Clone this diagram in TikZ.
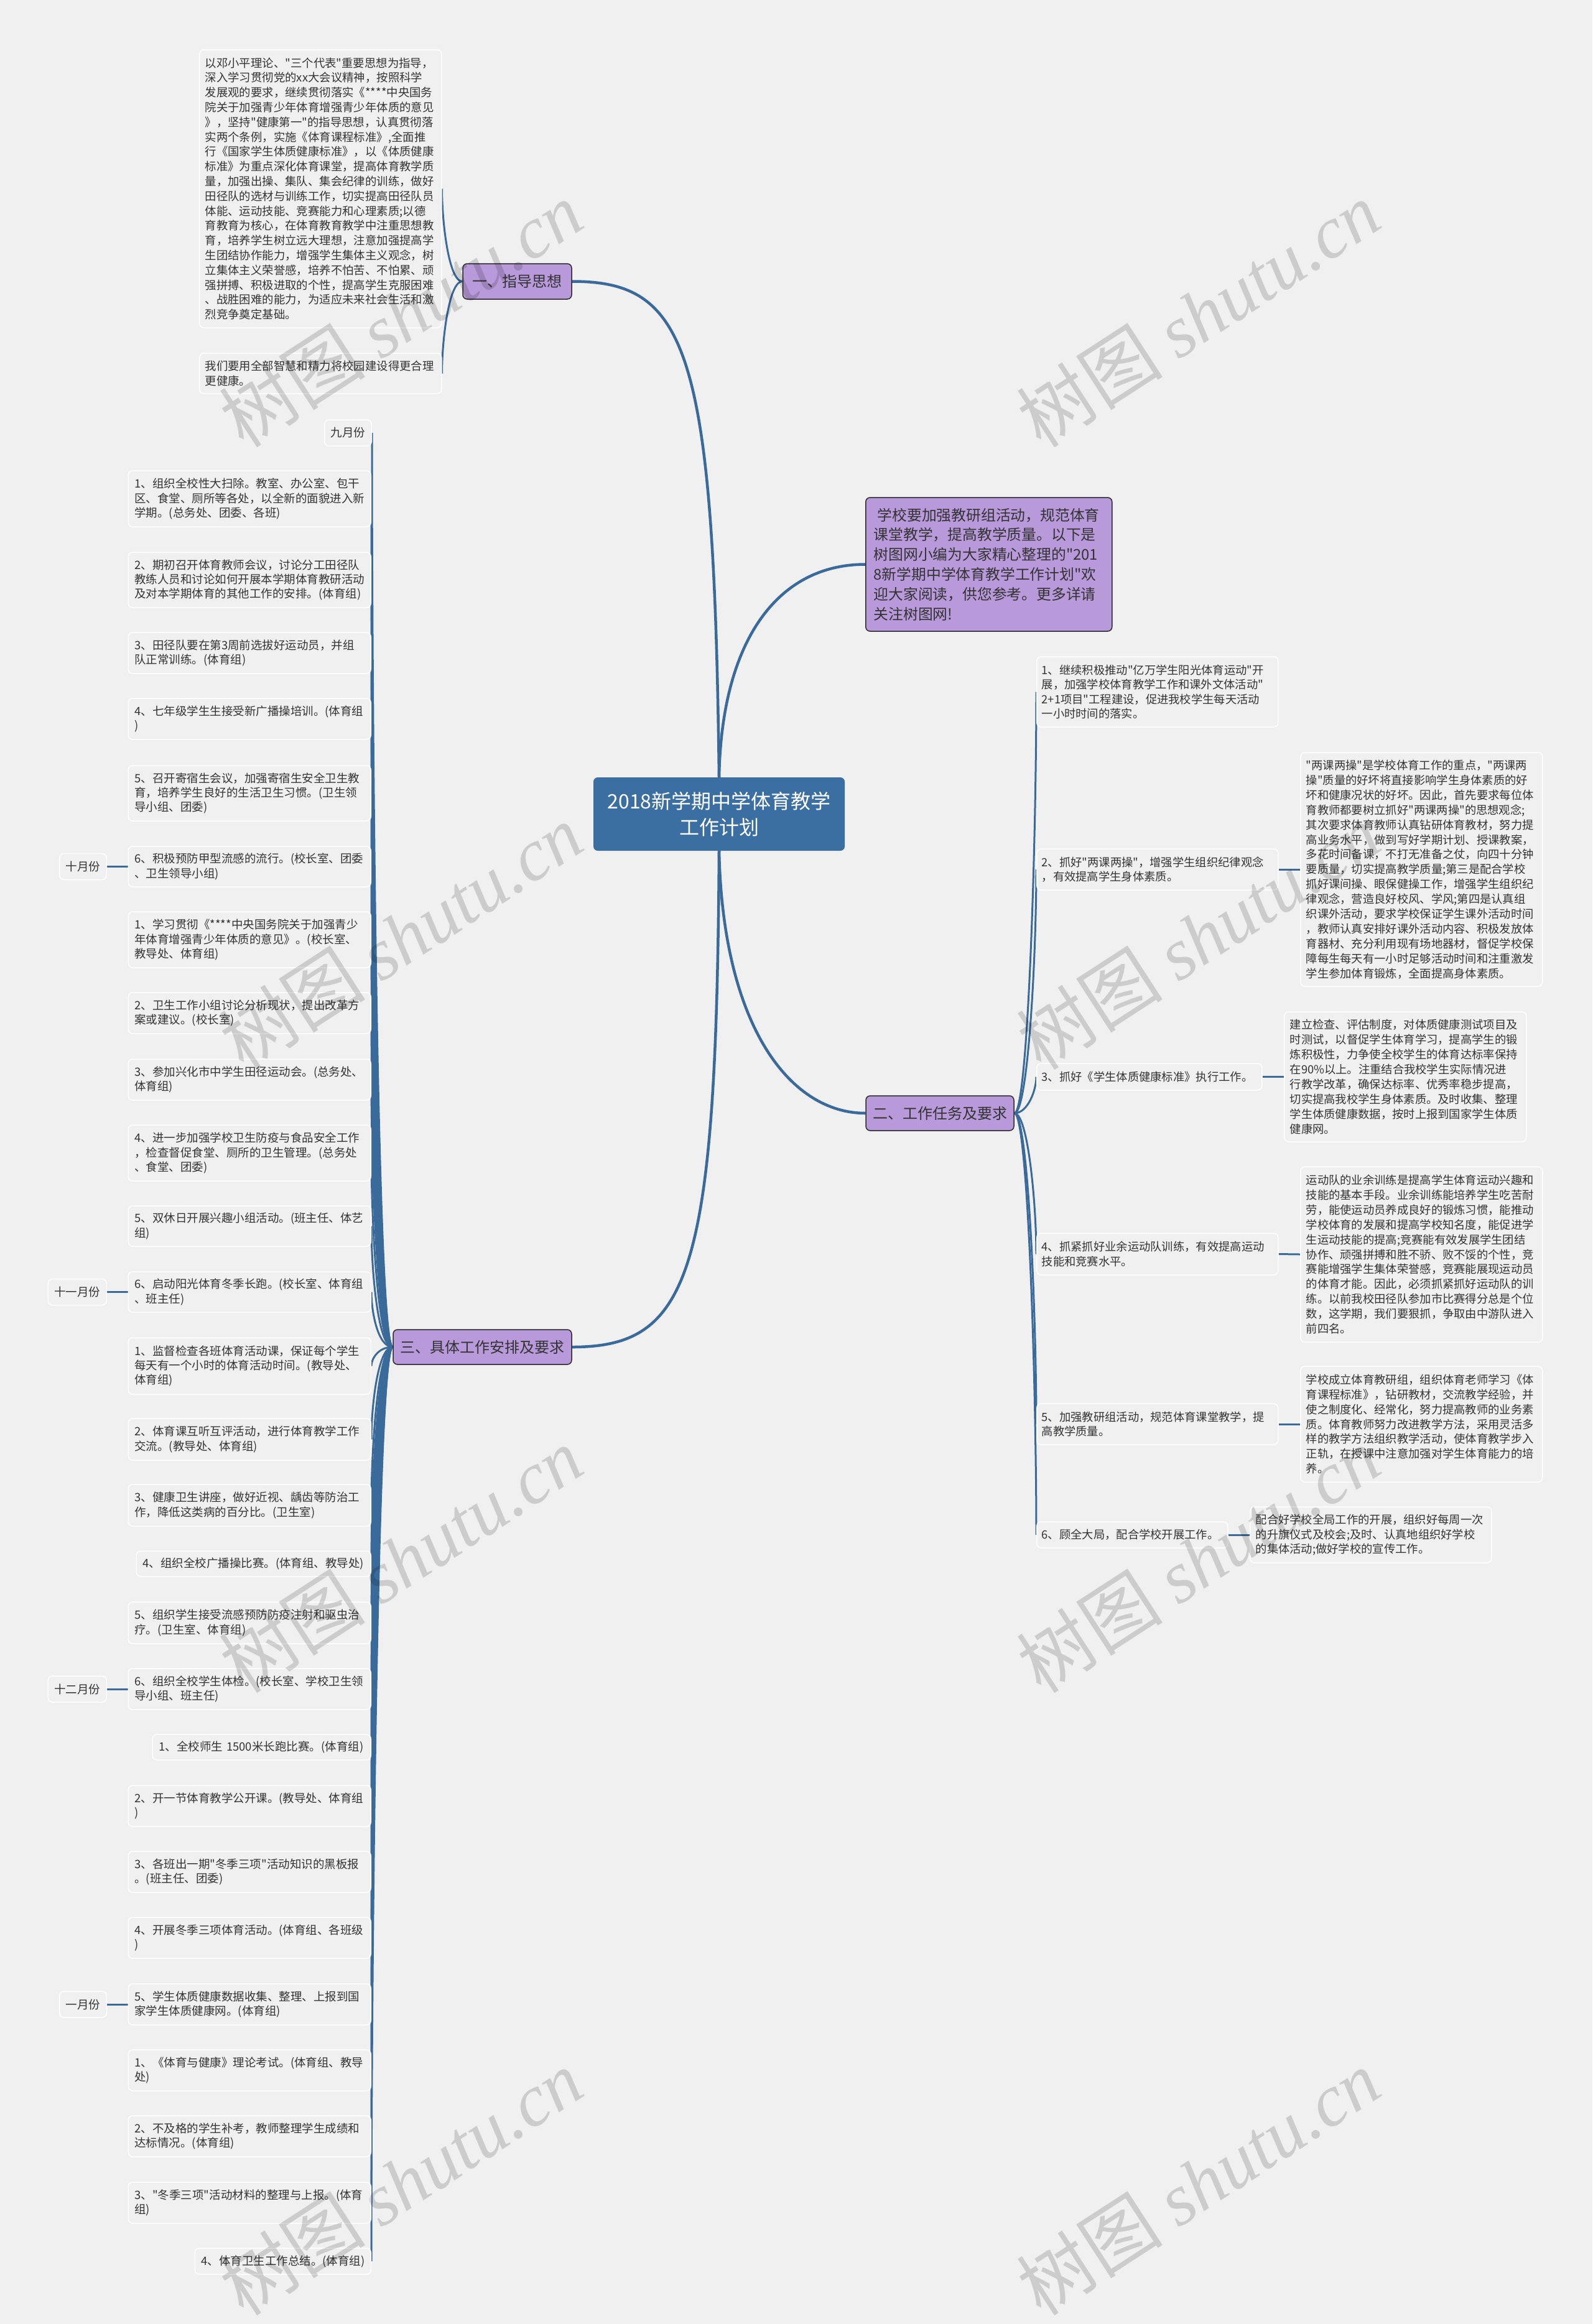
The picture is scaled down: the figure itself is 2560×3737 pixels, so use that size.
\documentclass[tikz,border=0pt]{standalone}
\usepackage{fontspec}
\setmainfont{Noto Sans CJK SC}[Ligatures=TeXOff]
\newfontfamily\wmlatin{Liberation Serif}
\usetikzlibrary{calc}
\definecolor{bgc}{HTML}{F0F0F0}
\definecolor{lineblue}{HTML}{3A6A9A}
\definecolor{rootblue}{HTML}{3C6FA1}
\definecolor{purp}{HTML}{B899DA}
\definecolor{pborder}{HTML}{2A2A2A}
\definecolor{txt}{HTML}{333333}
\pgfdeclarelayer{back}
\pgfdeclarelayer{lines}
\pgfdeclarelayer{front}
\pgfsetlayers{back,lines,main,front}
\begin{document}
\begin{tikzpicture}[x=1pt,y=-1pt,
  conn/.style={draw=lineblue,line width=3pt},
  rconn/.style={draw=lineblue,line width=4.5pt},
  tbox/.style={draw=white,line width=1.5pt,fill=bgc,rounded corners=7pt,text=txt,align=left,inner ysep=0pt},
  litem/.style={tbox,anchor=east,text width=370pt,inner xsep=10pt,font=\fontsize{18.5}{23.2}\selectfont},
  month/.style={tbox,anchor=east,inner xsep=10pt,minimum height=42pt,font=\fontsize{18.5}{23.2}\selectfont},
  ritem/.style={tbox,anchor=west,text width=372pt,inner xsep=8pt,font=\fontsize{18.3}{23.4}\selectfont},
  dbox/.style={tbox,anchor=west,text width=371pt,inner xsep=9pt,font=\fontsize{18.3}{23.9}\selectfont},
  gbox/.style={tbox,anchor=west,text width=371pt,inner xsep=9pt,font=\fontsize{18.4}{23.8}\selectfont},
  pbox/.style={draw=pborder,line width=1.5pt,fill=purp,rounded corners=7pt,text=txt,inner sep=0pt,font=\fontsize{24}{30}\selectfont},
  wm/.style={text=black,text opacity=0.15,rotate=33,font=\fontsize{118}{118}\selectfont}
]
\begin{pgfonlayer}{back}
\fill[bgc] (0,0) rectangle (2560,3737);
\end{pgfonlayer}
\useasboundingbox (0,0) rectangle (2560,3737);

% ---------- root and main branches ----------
\node[fill=rootblue,rounded corners=7pt,text=white,align=center,minimum width=404pt,minimum height=118pt,inner sep=0pt,font=\fontsize{32}{42}\selectfont] (root) at (1156,1309) {2018新学期中学体育教学\\工作计划};

\node[pbox,minimum width=175pt,minimum height=57pt] (zd) at (831.5,452.5) {一、指导思想};
\node[pbox,minimum width=238pt,minimum height=56pt] (er) at (1511,1790) {二、工作任务及要求};
\node[pbox,minimum width=287pt,minimum height=56pt] (san) at (775.5,2166) {三、具体工作安排及要求};

\node[pbox,anchor=west,align=left,text width=370pt,inner xsep=13pt,minimum height=215pt,font=\fontsize{23.8}{31.8}\selectfont] (intro) at (1391,907.5) {\hspace*{6pt}学校要加强教研组活动，规范体育\\课堂教学，提高教学质量。以下是\\树图网小编为大家精心整理的"201\\8新学期中学体育教学工作计划"欢\\迎大家阅读，供您参考。更多详请\\关注树图网!};

% ---------- guiding ideas ----------
\node[gbox,minimum height=447pt] (g1) at (320,303.5) {以邓小平理论、"三个代表"重要思想为指导，\\深入学习贯彻党的xx大会议精神，按照科学\\发展观的要求，继续贯彻落实《****中央国务\\院关于加强青少年体育增强青少年体质的意见\\》，坚持"健康第一"的指导思想，认真贯彻落\\实两个条例，实施《体育课程标准》,全面推\\行《国家学生体质健康标准》，以《体质健康\\标准》为重点深化体育课堂，提高体育教学质\\量，加强出操、集队、集会纪律的训练，做好\\田径队的选材与训练工作，切实提高田径队员\\体能、运动技能、竞赛能力和心理素质;以德\\育教育为核心，在体育教育教学中注重思想教\\育，培养学生树立远大理想，注意加强提高学\\生团结协作能力，增强学生集体主义观念，树\\立集体主义荣誉感，培养不怕苦、不怕累、顽\\强拼搏、积极进取的个性，提高学生克服困难\\、战胜困难的能力，为适应未来社会生活和激\\烈竞争奠定基础。};
\node[gbox,minimum height=65pt] (g2) at (320,600.5) {我们要用全部智慧和精力将校园建设得更合理\\更健康。};

% ---------- right branch ----------
\node[ritem,minimum height=113pt] (r1) at (1666,1112.5) {1、继续积极推动"亿万学生阳光体育运动"开\\展，加强学校体育教学工作和课外文体活动"\\2+1项目"工程建设，促进我校学生每天活动\\一小时时间的落实。};
\node[ritem,minimum height=66pt] (r2) at (1666,1398) {2、抓好"两课两操"，增强学生组织纪律观念\\，有效提高学生身体素质。};
\node[ritem,text width=346pt,minimum height=43pt] (r3) at (1666,1731.5) {3、抓好《学生体质健康标准》执行工作。};
\node[ritem,minimum height=67pt] (r4) at (1666,2016.5) {4、抓紧抓好业余运动队训练，有效提高运动\\技能和竞赛水平。};
\node[ritem,minimum height=66pt] (r5) at (1666,2290) {5、加强教研组活动，规范体育课堂教学，提\\高教学质量。};
\node[ritem,text width=291pt,minimum height=42pt] (r6) at (1666,2468) {6、顾全大局，配合学校开展工作。};

\node[dbox,minimum height=376pt] (t2) at (2090,1398) {"两课两操"是学校体育工作的重点，"两课两\\操"质量的好坏将直接影响学生身体素质的好\\坏和健康况状的好坏。因此，首先要求每位体\\育教师都要树立抓好"两课两操"的思想观念;\\其次要求体育教师认真钻研体育教材，努力提\\高业务水平，做到写好学期计划、授课教案，\\多花时间备课，不打无准备之仗，向四十分钟\\要质量，切实提高教学质量;第三是配合学校\\抓好课间操、眼保健操工作，增强学生组织纪\\律观念，营造良好校风、学风;第四是认真组\\织课外活动，要求学校保证学生课外活动时间\\，教师认真安排好课外活动内容、积极发放体\\育器材、充分利用现有场地器材，督促学校保\\障每生每天有一小时足够活动时间和注重激发\\学生参加体育锻炼，全面提高身体素质。};
\node[dbox,minimum height=209pt] (t3) at (2064,1731.5) {建立检查、评估制度，对体质健康测试项目及\\时测试，以督促学生体育学习，提高学生的锻\\炼积极性，力争使全校学生的体育达标率保持\\在90\%以上。注重结合我校学生实际情况进\\行教学改革，确保达标率、优秀率稳步提高，\\切实提高我校学生身体素质。及时收集、整理\\学生体质健康数据，按时上报到国家学生体质\\健康网。};
\node[dbox,minimum height=282pt] (t4) at (2090,2017) {运动队的业余训练是提高学生体育运动兴趣和\\技能的基本手段。业余训练能培养学生吃苦耐\\劳，能使运动员养成良好的锻炼习惯，能推动\\学校体育的发展和提高学校知名度，能促进学\\生运动技能的提高;竞赛能有效发展学生团结\\协作、顽强拼搏和胜不骄、败不馁的个性，竞\\赛能增强学生集体荣誉感，竞赛能展现运动员\\的体育才能。因此，必须抓紧抓好运动队的训\\练。以前我校田径队参加市比赛得分总是个位\\数，这学期，我们要狠抓，争取由中游队进入\\前四名。};
\node[dbox,minimum height=186pt] (t5) at (2090,2290) {学校成立体育教研组，组织体育老师学习《体\\育课程标准》，钻研教材，交流教学经验，并\\使之制度化、经常化，努力提高教师的业务素\\质。体育教师努力改进教学方法，采用灵活多\\样的教学方法组织教学活动，使体育教学步入\\正轨，在授课中注意加强对学生体育能力的培\\养。};
\node[dbox,text width=370pt,minimum height=90pt] (t6) at (2009,2468) {配合好学校全局工作的开展，组织好每周一次\\的升旗仪式及校会;及时、认真地组织好学校\\的集体活动;做好学校的宣传工作。};

% ---------- left branch ----------
\node[month] (sep) at (598,696) {九月份};
\node[litem,minimum height=90pt] (s1) at (597,802) {1、组织全校性大扫除。教室、办公室、包干\\区、食堂、厕所等各处，以全新的面貌进入新\\学期。(总务处、团委、各班)};
\node[litem,minimum height=89pt] (s2) at (597,932.5) {2、期初召开体育教师会议，讨论分工田径队\\教练人员和讨论如何开展本学期体育教研活动\\及对本学期体育的其他工作的安排。(体育组)};
\node[litem,minimum height=66pt] (s3) at (597,1050) {3、田径队要在第3周前选拔好运动员，并组\\队正常训练。(体育组)};
\node[litem,minimum height=66pt] (s4) at (597,1156) {4、七年级学生生接受新广播操培训。(体育组\\)};
\node[litem,minimum height=89pt] (s5) at (597,1275.5) {5、召开寄宿生会议，加强寄宿生安全卫生教\\育，培养学生良好的生活卫生习惯。(卫生领\\导小组、团委)};
\node[litem,minimum height=65pt] (s6) at (597,1393.5) {6、积极预防甲型流感的流行。(校长室、团委\\、卫生领导小组)};
\node[month] (oct) at (172,1393.5) {十月份};
\node[litem,minimum height=90pt] (o1) at (597,1511) {1、学习贯彻《****中央国务院关于加强青少\\年体育增强青少年体质的意见》。(校长室、\\教导处、体育组)};
\node[litem,minimum height=66pt] (o2) at (597,1629) {2、卫生工作小组讨论分析现状，提出改革方\\案或建议。(校长室)};
\node[litem,minimum height=66pt] (o3) at (597,1736) {3、参加兴化市中学生田径运动会。(总务处、\\体育组)};
\node[litem,minimum height=90pt] (o4) at (597,1854) {4、进一步加强学校卫生防疫与食品安全工作\\，检查督促食堂、厕所的卫生管理。(总务处\\、食堂、团委)};
\node[litem,minimum height=65pt] (o5) at (597,1971.5) {5、双休日开展兴趣小组活动。(班主任、体艺\\组)};
\node[litem,minimum height=65pt] (o6) at (597,2077.5) {6、启动阳光体育冬季长跑。(校长室、体育组\\、班主任)};
\node[month] (nov) at (172,2077.5) {十一月份};
\node[litem,minimum height=91pt] (n1) at (597,2196.5) {1、监督检查各班体育活动课，保证每个学生\\每天有一个小时的体育活动时间。(教导处、\\体育组)};
\node[litem,minimum height=67pt] (n2) at (597,2314.5) {2、体育课互听互评活动，进行体育教学工作\\交流。(教导处、体育组)};
\node[litem,minimum height=67pt] (n3) at (597,2420.5) {3、健康卫生讲座，做好近视、龋齿等防治工\\作，降低这类病的百分比。(卫生室)};
\node[litem,text width=357pt,minimum height=41pt] (n4) at (597,2514.5) {4、组织全校广播操比赛。(体育组、教导处)};
\node[litem,minimum height=67pt] (n5) at (597,2609.5) {5、组织学生接受流感预防防疫注射和驱虫治\\疗。(卫生室、体育组)};
\node[litem,minimum height=66pt] (n6) at (597,2716) {6、组织全校学生体检。(校长室、学校卫生领\\导小组、班主任)};
\node[month] (dec) at (172,2716) {十二月份};
\node[litem,text width=331pt,minimum height=41pt] (d1) at (597,2809.5) {1、全校师生 1500米长跑比赛。(体育组)};
\node[litem,minimum height=66pt] (d2) at (597,2904) {2、开一节体育教学公开课。(教导处、体育组\\)};
\node[litem,minimum height=66pt] (d3) at (597,3010) {3、各班出一期"冬季三项"活动知识的黑板报\\。(班主任、团委)};
\node[litem,minimum height=66pt] (d4) at (597,3116) {4、开展冬季三项体育活动。(体育组、各班级\\)};
\node[litem,minimum height=66pt] (d5) at (597,3223) {5、学生体质健康数据收集、整理、上报到国\\家学生体质健康网。(体育组)};
\node[month] (jan) at (172,3223) {一月份};
\node[litem,minimum height=66pt] (j1) at (597,3329) {1、《体育与健康》理论考试。(体育组、教导\\处)};
\node[litem,minimum height=66pt] (j2) at (597,3435) {2、不及格的学生补考，教师整理学生成绩和\\达标情况。(体育组)};
\node[litem,minimum height=66pt] (j3) at (597,3542) {3、"冬季三项"活动材料的整理与上报。(体育\\组)};
\node[litem,text width=263pt,minimum height=42pt] (j4) at (597,3636) {4、体育卫生工作总结。(体育组)};

% ---------- connectors ----------
\begin{pgfonlayer}{lines}
\draw[rconn] (root.north) .. controls (1148,560) and (1105,452.5) .. (zd.east);
\draw[rconn] (root.north) .. controls (1160,1030) and (1250,907.5) .. (intro.west);
\draw[rconn] (root.south) .. controls (1162,1650) and (1270,1790) .. (er.west);
\draw[rconn] (root.south) .. controls (1152,2050) and (1110,2166) .. (san.east);

\foreach \n in {g1,g2}
  \draw[conn] (zd.west) .. controls +(-22,0) and ($(\n.east)!0.35!(\n.east|-zd.west)$) .. (\n.east);

\foreach \n in {r1,r2,r3,r4,r5,r6}
  \draw[conn] (er.east) .. controls +(22,0) and ($(\n.west)!0.35!(\n.west|-er.east)$) .. (\n.west);

\draw[conn] (r2.east) -- (t2.west);
\draw[conn] (r3.east) -- (t3.west);
\draw[conn] (r4.east) -- (t4.west);
\draw[conn] (r5.east) -- (t5.west);
\draw[conn] (r6.east) -- (t6.west);

\foreach \n in {sep,s1,s2,s3,s4,s5,s6,o1,o2,o3,o4,o5,o6,n1,n2,n3,n4,n5,n6,d1,d2,d3,d4,d5,j1,j2,j3,j4}
  \draw[conn] (san.west) .. controls +(-24,0) and ($(\n.east)!0.35!(\n.east|-san.west)$) .. (\n.east);

\draw[conn] (oct.east) -- (s6.west);
\draw[conn] (nov.east) -- (o6.west);
\draw[conn] (dec.east) -- (n6.west);
\draw[conn] (jan.east) -- (d5.west);
\end{pgfonlayer}

% ---------- watermarks ----------
\begin{pgfonlayer}{front}
\node[wm] (wm1) at (644,505) {树图 {\wmlatin\itshape shutu.cn}};
\node[wm] (wm2) at (1926,505) {树图 {\wmlatin\itshape shutu.cn}};
\node[wm] (wm3) at (644,1506) {树图 {\wmlatin\itshape shutu.cn}};
\node[wm] (wm4) at (1926,1506) {树图 {\wmlatin\itshape shutu.cn}};
\node[wm] (wm5) at (644,2508) {树图 {\wmlatin\itshape shutu.cn}};
\node[wm] (wm6) at (1926,2508) {树图 {\wmlatin\itshape shutu.cn}};
\node[wm] (wm7) at (644,3509) {树图 {\wmlatin\itshape shutu.cn}};
\node[wm] (wm8) at (1926,3509) {树图 {\wmlatin\itshape shutu.cn}};
\end{pgfonlayer}
\end{tikzpicture}
\end{document}
